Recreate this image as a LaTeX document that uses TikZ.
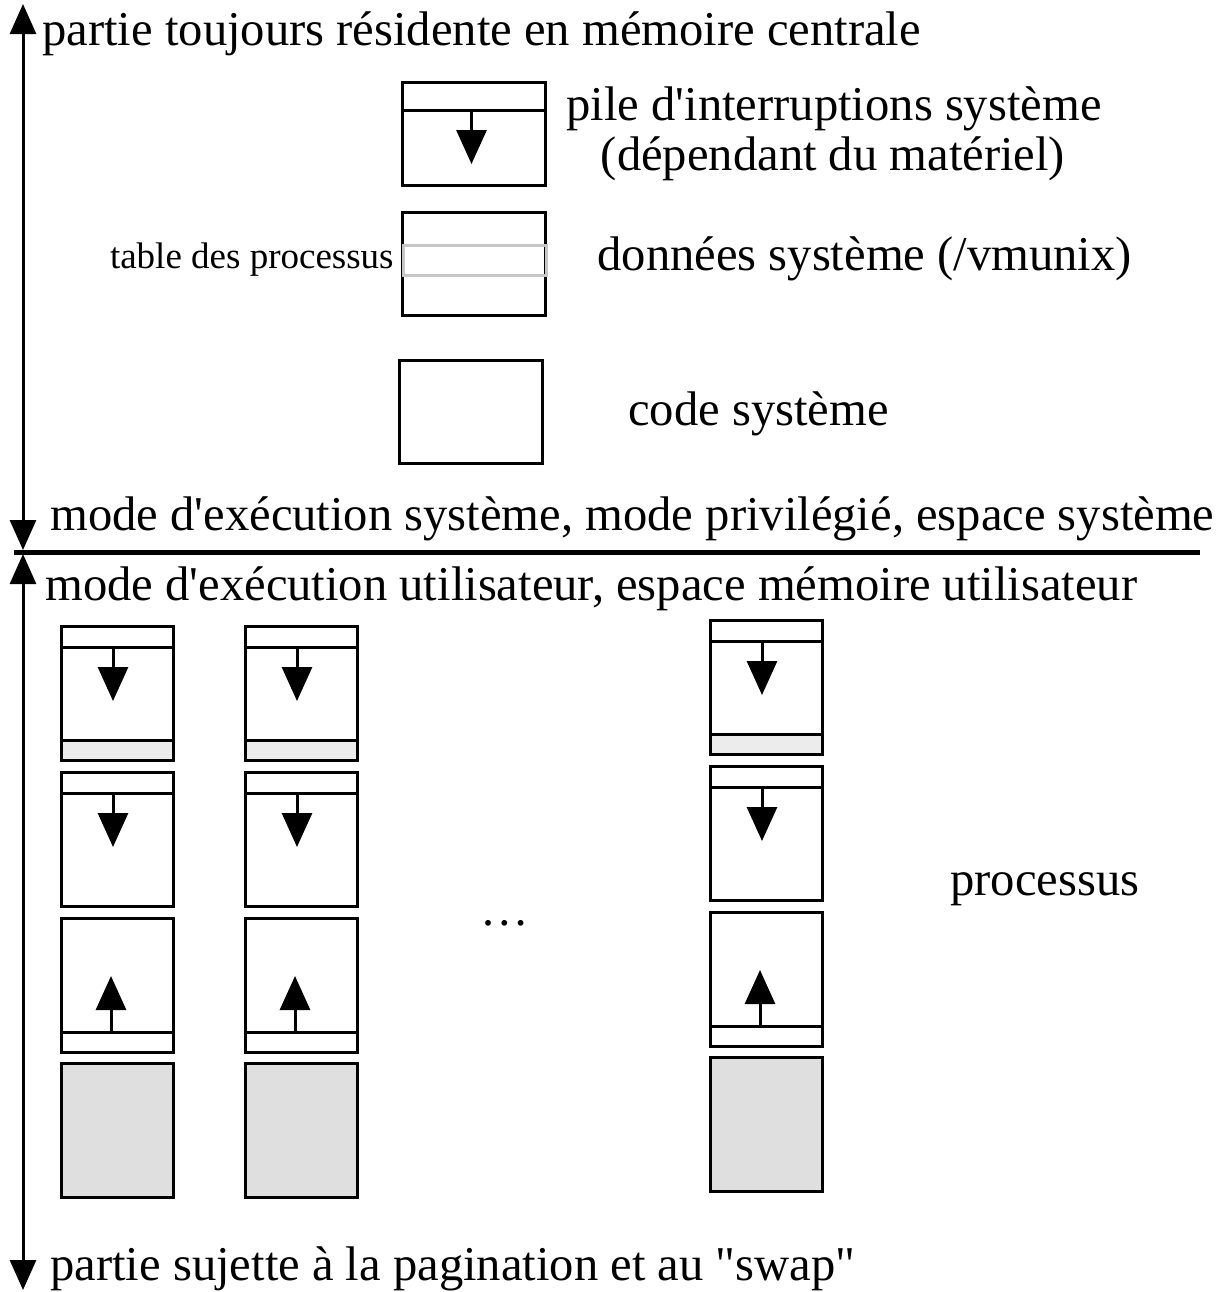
\documentclass[tikz,border=0pt]{standalone}
\usepackage{fontspec}
\setmainfont{Liberation Serif}[Ligatures=TeXOff]
\usetikzlibrary{positioning, arrows.meta}

\tikzset{
  membox/.style={draw, line width=1.5pt, inner sep=0pt, outer sep=0pt, anchor=north west},
  procbox/.style={membox, minimum width=56pt, minimum height=67pt},
  sysbox/.style={membox, minimum width=71.5pt, minimum height=51.5pt},
  bigtxt/.style={font=\fontsize{24.3pt}{29pt}\selectfont, inner sep=0pt, anchor=base west},
  stk/.style={line width=1.5pt, -{Triangle[length=17pt,width=15pt]}},
  axe/.style={line width=1.5pt, {Triangle[length=15pt,width=13pt]}-{Triangle[length=15pt,width=13pt]}},
}

\begin{document}
\begin{tikzpicture}[x=0.5pt,y=-0.5pt]
\useasboundingbox (0,0) rectangle (1227,1292);
% axe vertical et separation
\coordinate (haut) at (23,4);
\coordinate (sepsys) at (23,550);
\coordinate (seputil) at (23,554);
\coordinate (bas) at (23,1290);
\coordinate (sepg) at (14,552);
\coordinate (sepd) at (1200,552);
\draw[axe] (haut) -- (sepsys);
\draw[axe] (seputil) -- (bas);
\draw[line width=2.5pt] (sepg) -- (sepd);
% textes
\node[bigtxt] (resident) at (42,45) {partie toujours résidente en mémoire centrale};
\node[bigtxt] (modesys) at (50,530) {mode d'exécution système, mode privilégié, espace système};
\node[bigtxt] (modeutil) at (45,600) {mode d'exécution utilisateur, espace mémoire utilisateur};
\node[bigtxt] (swap) at (50,1280) {partie sujette à la pagination et au "swap"};
% partie systeme
\node[sysbox] (pilesys) at (402,82) {};
\draw[line width=1.5pt] ([yshift=-14pt]pilesys.north west) -- ([yshift=-14pt]pilesys.north east);
\draw[stk] ([xshift=-1pt,yshift=-14pt]pilesys.north) -- ++(0,54);
\node[bigtxt, anchor=base] (pilelbl) at (834,120) {pile d'interruptions système};
\node[bigtxt, anchor=base] (materiel) at (833,170) {(dépendant du matériel)};
\node[sysbox] (donnees) at (402,212) {};
\node[draw=gray!45, line width=1.5pt, inner sep=0pt, minimum width=71.5pt, minimum height=15pt, anchor=west] (tabproc) at (402,260) {};
\node[font=\fontsize{18.5pt}{22pt}\selectfont, inner sep=0pt, left=4pt of tabproc.west, anchor=east] (tablbl) {table des processus};
\node[bigtxt] (donneeslbl) at (597,270) {données système (/vmunix)};
\node[sysbox] (codesys) at (399,360) {};
\node[bigtxt] (codelbl) at (628,425) {code système};
% processus utilisateurs
\foreach \c/\x/\y in {a/61/626, b/245/626, c/710/620} {
  \node[procbox] (pile\c) at (\x,\y) {};
  \node[procbox] (pilek\c) at (\x,\y+146) {};
  \node[procbox] (tas\c) at (\x,\y+292) {};
  \node[procbox, fill=gray!25] (texte\c) at (\x,\y+437) {};
  \fill[gray!15] ([xshift=0.75pt,yshift=10pt]pile\c.south west) rectangle ([xshift=-0.75pt,yshift=0.75pt]pile\c.south east);
  \draw[line width=1.5pt] ([yshift=10pt]pile\c.south west) -- ([yshift=10pt]pile\c.south east);
  \draw[line width=1.5pt] ([yshift=-10.5pt]pile\c.north west) -- ([yshift=-10.5pt]pile\c.north east);
  \draw[stk] ([xshift=-2pt,yshift=-10.5pt]pile\c.north) -- ++(0,54);
  \draw[line width=1.5pt] ([yshift=-10.5pt]pilek\c.north west) -- ([yshift=-10.5pt]pilek\c.north east);
  \draw[stk] ([xshift=-2pt,yshift=-10.5pt]pilek\c.north) -- ++(0,54);
  \draw[line width=1.5pt] ([yshift=10pt]tas\c.south west) -- ([yshift=10pt]tas\c.south east);
  \draw[stk] ([xshift=-3pt,yshift=10pt]tas\c.south) -- ++(0,-56);
}
\node[bigtxt, anchor=base] (etc) at (505,925) {\dots};
\node[bigtxt] (proclbl) at (950,895) {processus};
\end{tikzpicture}
\end{document}
